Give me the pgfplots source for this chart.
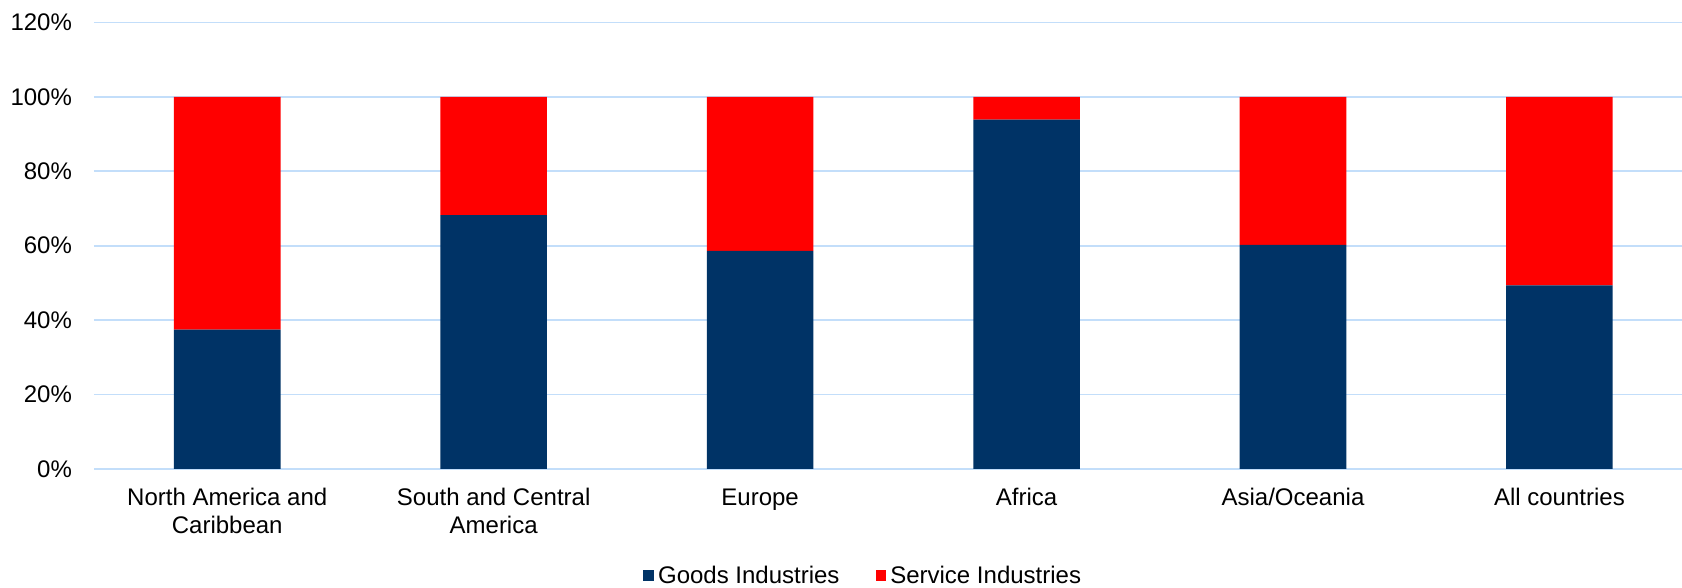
\documentclass[border=0pt]{standalone}
\usepackage{pgfplots}
\pgfplotsset{compat=1.18}
\usepackage{fontspec}
\setmainfont{Liberation Sans}
\definecolor{goods}{RGB}{0,51,102}
\definecolor{service}{RGB}{255,0,0}
\definecolor{gridblue}{RGB}{195,222,250}
\begin{document}
\begin{tikzpicture}
\path[use as bounding box] (0,0) rectangle (841pt,294pt);
\begin{axis}[
  at={(47pt,59.6pt)}, anchor=south west,
  scale only axis,
  width=794pt, height=223.1pt,
  ybar stacked,
  bar width=0.40,
  xmin=-0.5, xmax=5.46,
  ymin=0, ymax=120,
  ytick={0,20,...,120},
  yticklabel={\pgfmathprintnumber{\tick}\%},
  /pgf/number format/assume math mode=true,
  xtick={0,...,5},
  xticklabels={\strut North America and\\Caribbean, \strut South and Central\\America, \strut Europe, \strut Africa, \strut Asia/Oceania, \strut All countries},
  xticklabel style={align=center, font=\fontsize{12pt}{14pt}\selectfont, yshift=-5pt},
  yticklabel style={font=\fontsize{12pt}{14pt}\selectfont, xshift=-7.5pt},
  axis line style={draw=none},
  major tick style={draw=none},
  ymajorgrids,
  grid style={gridblue, line width=0.9pt},
  legend columns=2,
  legend style={at={(0.485,-0.240)}, anchor=center, draw=none,
    font=\fontsize{12pt}{14pt}\selectfont,
    /tikz/every even column/.append style={column sep=16pt}},
  legend image code/.code={\fill[#1] (0pt,-2.7pt) rectangle (5.4pt,2.7pt);},
]
\addplot[fill=goods, draw=none] coordinates {(0,37.4) (1,68.2) (2,58.6) (3,93.9) (4,60.2) (5,49.3)};
\addplot[fill=service, draw=none] coordinates {(0,62.6) (1,31.8) (2,41.4) (3,6.1) (4,39.8) (5,50.7)};
\legend{Goods Industries, Service Industries}
\end{axis}
\end{tikzpicture}
\end{document}
